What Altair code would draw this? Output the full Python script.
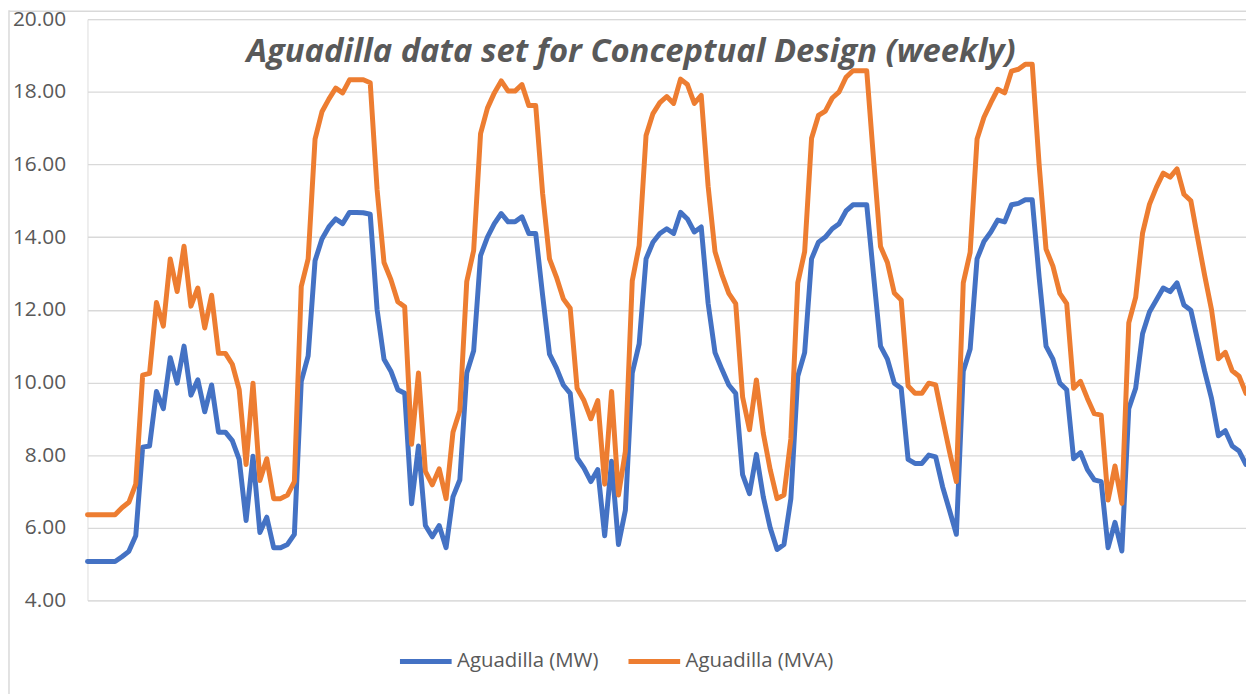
import altair as alt
import pandas as pd

hours = list(range(169))

mw = [5.07, 5.07, 5.07, 5.07, 5.07, 5.2, 5.35, 5.78, 8.22, 8.25,
      9.75, 9.28, 10.68, 9.98, 11.0, 9.65, 10.07, 9.19, 9.93, 8.63,
      8.63, 8.4, 7.88, 6.2, 7.97, 5.87, 6.29, 5.45, 5.45, 5.54,
      5.82, 10.03, 10.73, 13.35, 13.95, 14.28, 14.5, 14.37, 14.68, 14.68,
      14.67, 14.63, 12.0, 10.64, 10.31, 9.8, 9.7, 6.66, 8.25, 6.06,
      5.75, 6.06, 5.45, 6.85, 7.32, 10.26, 10.87, 13.49, 14.0, 14.37,
      14.65, 14.42, 14.42, 14.56, 14.1, 14.1, 12.4, 10.78, 10.4, 9.93,
      9.7, 7.92, 7.64, 7.27, 7.6, 5.78, 7.83, 5.54, 6.48, 10.26,
      11.06, 13.4, 13.86, 14.1, 14.23, 14.1, 14.68, 14.5, 14.14, 14.28,
      12.18, 10.82, 10.36, 9.93, 9.7, 7.46, 6.94, 8.02, 6.85, 6.0,
      5.4, 5.54, 6.8, 10.17, 10.82, 13.4, 13.86, 14.0, 14.23, 14.37,
      14.72, 14.89, 14.89, 14.89, 12.93, 11.0, 10.64, 9.98, 9.84, 7.88,
      7.77, 7.77, 8.0, 7.95, 7.13, 6.48, 5.82, 10.31, 10.92, 13.4,
      13.88, 14.14, 14.47, 14.42, 14.89, 14.93, 15.03, 15.03, 12.9, 11.0,
      10.64, 9.98, 9.8, 7.9, 8.07, 7.6, 7.32, 7.27, 5.45, 6.15,
      5.36, 9.28, 9.84, 11.34, 11.94, 12.27, 12.6, 12.5, 12.74, 12.13,
      11.99, 11.15, 10.31, 9.56, 8.53, 8.67, 8.25, 8.11, 7.74]

mva = [6.36, 6.36, 6.36, 6.36, 6.36, 6.55, 6.7, 7.2, 10.2, 10.25,
       12.2, 11.55, 13.4, 12.5, 13.75, 12.1, 12.6, 11.5, 12.4, 10.8,
       10.8, 10.5, 9.8, 7.74, 9.98, 7.3, 7.9, 6.8, 6.8, 6.9,
       7.27, 12.64, 13.4, 16.7, 17.45, 17.8, 18.1, 17.97, 18.33, 18.33,
       18.33, 18.25, 15.3, 13.3, 12.83, 12.22, 12.08, 8.3, 10.26, 7.55,
       7.18, 7.62, 6.8, 8.63, 9.23, 12.78, 13.63, 16.85, 17.55, 17.97,
       18.3, 18.02, 18.02, 18.2, 17.62, 17.62, 15.2, 13.4, 12.9, 12.3,
       12.04, 9.84, 9.5, 9.0, 9.5, 7.2, 9.75, 6.9, 8.1, 12.8,
       13.77, 16.8, 17.4, 17.7, 17.87, 17.68, 18.35, 18.2, 17.68, 17.9,
       15.4, 13.6, 12.97, 12.45, 12.17, 9.6, 8.7, 10.07, 8.6, 7.6,
       6.8, 6.9, 8.45, 12.74, 13.6, 16.72, 17.35, 17.47, 17.83, 18.0,
       18.4, 18.58, 18.58, 18.58, 16.12, 13.74, 13.3, 12.46, 12.27, 9.9,
       9.7, 9.7, 9.98, 9.93, 9.0, 8.1, 7.27, 12.74, 13.58, 16.7,
       17.3, 17.7, 18.07, 17.97, 18.57, 18.62, 18.76, 18.76, 16.0, 13.67,
       13.2, 12.45, 12.17, 9.84, 10.03, 9.56, 9.14, 9.1, 6.76, 7.7,
       6.67, 11.64, 12.34, 14.11, 14.9, 15.37, 15.76, 15.65, 15.88, 15.18,
       15.0, 13.96, 12.95, 12.0, 10.65, 10.83, 10.32, 10.17, 9.7]

series_names = ["Aguadilla (MW)", "Aguadilla (MVA)"]
series_colors = ["#4472C4", "#ED7D31"]
y_ticks = [4, 6, 8, 10, 12, 14, 16, 18, 20]
title_text = "Aguadilla data set for Conceptual Design (weekly)"

df_mw = pd.DataFrame({"hour": hours, "value": mw, "series": series_names[0]})
df_mva = pd.DataFrame({"hour": hours, "value": mva, "series": series_names[1]})

color = alt.Color(
    "series:N",
    scale=alt.Scale(domain=series_names, range=series_colors),
    legend=alt.Legend(
        title=None,
        orient="none",
        legendX=312,
        legendY=618,
        direction="horizontal",
        symbolType="stroke",
        symbolSize=2704,
        symbolStrokeWidth=5,
        labelFont="Open Sans",
        labelFontSize=20.5,
        labelColor="#595959",
        labelOffset=3,
        columnPadding=19,
        padding=0,
    ),
)

x = alt.X("hour:Q", scale=alt.Scale(domain=[0, 168], nice=False, zero=False), axis=None)
y = alt.Y(
    "value:Q",
    scale=alt.Scale(domain=[4, 20], nice=False, zero=False),
    axis=alt.Axis(
        title=None,
        values=y_ticks,
        format=".2f",
        domain=False,
        ticks=False,
        grid=True,
        gridColor="#D9D9D9",
        gridWidth=1.3,
        labelFont="Open Sans",
        labelFontSize=21,
        labelColor="#595959",
        labelPadding=22,
    ),
)

line_mw = alt.Chart(df_mw).mark_line(strokeWidth=5, strokeCap="round", strokeJoin="round").encode(
    x=x, y=y, color=color
)
line_mva = alt.Chart(df_mva).mark_line(strokeWidth=5, strokeCap="round", strokeJoin="round").encode(
    x=x, y=y, color=color
)

one = pd.DataFrame({"label": [title_text]})
border_left = alt.Chart(one).mark_rule(color="#D9D9D9", strokeWidth=1.5).encode(
    x=alt.value(-79), y=alt.value(-9), y2=alt.value(690)
)
border_top = alt.Chart(one).mark_rule(color="#D9D9D9", strokeWidth=1.5).encode(
    x=alt.value(-79), x2=alt.value(1170), y=alt.value(-8)
)
title_mark = alt.Chart(one).mark_text(
    font="Open Sans",
    fontSize=33,
    fontWeight="bold",
    fontStyle="italic",
    color="#595959",
    align="center",
    baseline="alphabetic",
).encode(x=alt.value(547), y=alt.value(43), text="label:N")

chart = (
    alt.layer(border_left, border_top, line_mw, line_mva, title_mark)
    .properties(
        width=1166,
        height=585,
        padding={"left": 80, "top": 9, "right": 0, "bottom": 92},
        autosize=alt.AutoSizeParams(type="none"),
    )
    .configure_view(stroke=None)
    .configure(background="white")
)

chart.save("out.html", embed_options={"renderer": "svg", "actions": False})
